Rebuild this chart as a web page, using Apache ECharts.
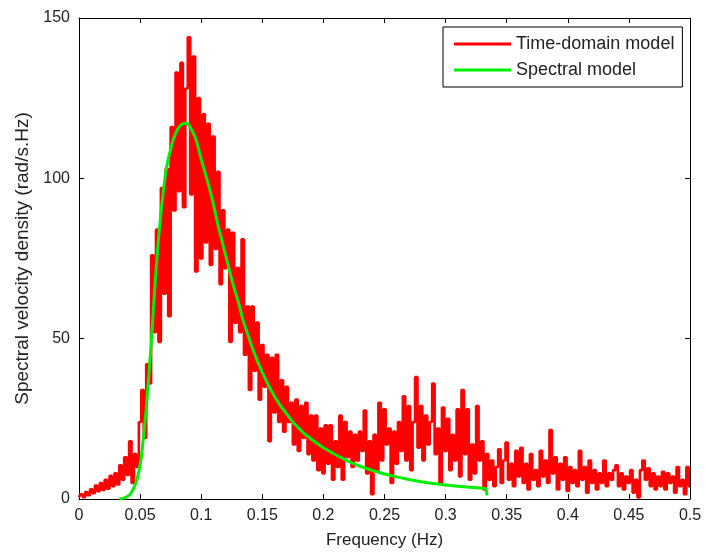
<!DOCTYPE html>
<html>
<head>
<meta charset="utf-8">
<script src="https://cdn.jsdelivr.net/npm/echarts@6/dist/echarts.min.js"></script>
<style>html,body{margin:0;padding:0;background:#fff}#c{width:706px;height:554px}</style>
</head>
<body>
<div id="c"></div>
<script>
// Time-domain model: frequency step and values (Hz, rad/s.Hz)
const redStep = 0.002;
const redValues = [
0.5,1.5,0.6,2.2,1.2,3.0,1.8,4.2,2.4,5.0,
2.8,6.0,3.2,7.2,4.0,8.0,4.5,10.5,6.0,13.0,
7.5,18.0,5.0,14.0,10.0,24.0,34.0,19.0,42.0,36.0,
76.0,52.0,84.0,49.0,97.0,64.0,103.0,57.0,116.0,90.0,
133.0,96.0,136.0,91.0,128.0,144.0,95.0,138.0,71.0,125.0,
75.0,120.0,80.0,117.0,73.0,113.0,78.0,102.0,67.0,90.0,
72.0,84.0,49.0,83.0,55.0,72.0,52.0,81.0,45.0,60.0,
34.0,60.0,40.0,55.0,31.0,48.0,35.0,45.0,18.0,44.0,
27.0,45.0,24.0,37.0,21.0,35.0,24.0,30.0,17.0,31.0,
15.0,29.0,19.0,30.0,14.0,26.0,12.0,26.0,9.0,22.0,
8.0,23.0,11.0,23.0,6.0,18.0,10.0,26.0,6.0,24.0,
13.0,21.0,10.0,20.0,12.0,21.0,15.0,27.6,8.0,18.0,
1.5,20.0,9.0,30.0,12.0,28.0,17.0,22.0,5.0,21.0,
11.0,24.0,15.0,32.0,12.0,29.0,9.0,24.0,38.0,16.0,
29.0,12.0,26.0,17.0,24.0,36.0,14.0,22.0,5.0,28.5,
15.0,25.0,9.0,20.0,12.0,28.0,7.0,34.0,14.0,28.0,
6.0,17.0,8.0,29.0,12.0,18.0,3.0,14.0,6.0,12.0,
4.0,10.0,15.5,5.0,12.0,17.6,6.0,11.0,4.0,15.0,
7.0,16.0,5.0,11.0,3.0,14.0,6.0,9.0,4.0,15.0,
7.0,12.0,5.0,21.5,8.0,13.0,3.0,11.0,6.0,13.0,
2.5,10.0,5.0,9.0,4.0,15.0,6.0,10.0,2.0,12.0,
5.0,9.0,3.0,8.0,5.0,12.0,4.0,8.0,6.0,9.0,
10.5,4.0,8.0,3.0,7.0,5.0,9.0,2.0,6.0,0.5,
9.0,12.0,6.0,9.6,4.0,8.0,3.0,7.0,4.0,8.5,
3.0,8.0,5.0,7.0,2.0,10.0,4.0,6.0,1.5,10.0,
4.0
];
// Spectral model
const greenFreq = [0.033,0.036,0.039,0.042,0.045,0.047,0.049,0.051,0.053,0.055,0.057,0.059,0.061,0.063,0.065,0.067,0.069,0.071,0.073,0.075,0.077,0.079,0.081,0.083,0.085,0.087,0.089,0.091,0.093,0.095,0.097,0.100,0.103,0.106,0.110,0.114,0.118,0.122,0.126,0.130,0.134,0.138,0.142,0.146,0.150,0.155,0.160,0.165,0.170,0.175,0.180,0.185,0.190,0.195,0.200,0.210,0.220,0.230,0.240,0.250,0.260,0.270,0.280,0.290,0.300,0.310,0.320,0.333,0.334];
const greenValues = [0,0.2,0.6,1.5,3.5,5.5,8.5,13,20,28,38,48,60,71,81,89,96,102,106,109,112,114,115.5,116.5,117,117.2,117,116,114.5,113,110.5,106,102,98,92,85,79,73,67,62,56,51.5,47,43,39.5,35.5,32,29,26.5,24,22,20.2,18.7,17.3,16,13.8,11.8,10.2,8.9,7.8,6.9,6.1,5.4,4.8,4.4,4.0,3.7,3.3,1.2];
const xTickLabels = ["0","0.05","0.1","0.15","0.2","0.25","0.3","0.35","0.4","0.45","0.5"];
const yTickLabels = ["0","50","100","150"];
const seriesNames = ["Time-domain model","Spectral model"];

const redData = redValues.map((v,i)=>[+(i*redStep).toFixed(4), v]);
const greenData = greenValues.map((v,i)=>[greenFreq[i], v]);

const font = 'Liberation Sans, Arial, sans-serif';
const axCol = '#000';
const txtCol = '#222';
function xLab(v){ const i=Math.round(v/0.05); return xTickLabels[i]!==undefined?xTickLabels[i]:''; }
function yLab(v){ const i=Math.round(v/50); return yTickLabels[i]!==undefined?yTickLabels[i]:''; }
const lineIcon = 'path://M0,0H60V3H0Z';

const chart = echarts.init(document.getElementById('c'), null, {renderer:'canvas'});
chart.setOption({
  animation:false,
  backgroundColor:'#fff',
  grid:{left:79,right:16,top:18,bottom:52,show:false},
  legend:{
    data:[{name:seriesNames[0],icon:lineIcon},{name:seriesNames[1],icon:lineIcon}],
    orient:'vertical', left:443, top:27,
    borderColor:'#000', borderWidth:1, backgroundColor:'#fff', borderRadius:0,
    padding:[7,8,7,11], itemGap:6, itemWidth:57, itemHeight:3,
    textStyle:{fontFamily:font,fontSize:18,color:txtCol,lineHeight:20}
  },
  xAxis:[
    {type:'value',min:0,max:0.5,interval:0.05,position:'bottom',
     name:'Frequency (Hz)',nameLocation:'middle',nameGap:33,
     nameTextStyle:{fontFamily:font,fontSize:17,color:txtCol},
     axisLine:{lineStyle:{color:axCol,width:1}},
     axisTick:{inside:true,length:5,lineStyle:{color:axCol}},
     axisLabel:{formatter:xLab,fontFamily:font,fontSize:16,color:txtCol,margin:9},
     splitLine:{show:false}},
    {type:'value',min:0,max:0.5,interval:0.05,position:'top',
     axisLine:{onZero:false,lineStyle:{color:axCol,width:1}},
     axisTick:{inside:true,length:5,lineStyle:{color:axCol}},
     axisLabel:{show:false},splitLine:{show:false}}
  ],
  yAxis:[
    {type:'value',min:0,max:150,interval:50,position:'left',
     name:'Spectral velocity density (rad/s.Hz)',nameLocation:'middle',nameGap:45,
     nameTextStyle:{fontFamily:font,fontSize:19,color:txtCol},
     axisLine:{show:true,onZero:false,lineStyle:{color:axCol,width:1}},
     axisTick:{show:true,inside:true,length:5,lineStyle:{color:axCol}},
     axisLabel:{formatter:yLab,fontFamily:font,fontSize:16,color:txtCol,margin:9},
     splitLine:{show:false}},
    {type:'value',min:0,max:150,interval:50,position:'right',
     axisLine:{show:true,onZero:false,lineStyle:{color:axCol,width:1}},
     axisTick:{show:true,inside:true,length:5,lineStyle:{color:axCol}},
     axisLabel:{show:false},splitLine:{show:false}}
  ],
  series:[
    {name:seriesNames[0],type:'line',data:redData,xAxisIndex:0,yAxisIndex:0,step:'middle',
     showSymbol:false,symbol:'none',lineStyle:{color:'#ff0000',width:2.6},itemStyle:{color:'#ff0000'},z:2},
    {name:seriesNames[1],type:'line',data:greenData,xAxisIndex:0,yAxisIndex:0,
     showSymbol:false,symbol:'none',smooth:false,lineStyle:{color:'#00ee00',width:3},itemStyle:{color:'#00ee00'},z:3}
  ]
});
</script>
</body>
</html>
